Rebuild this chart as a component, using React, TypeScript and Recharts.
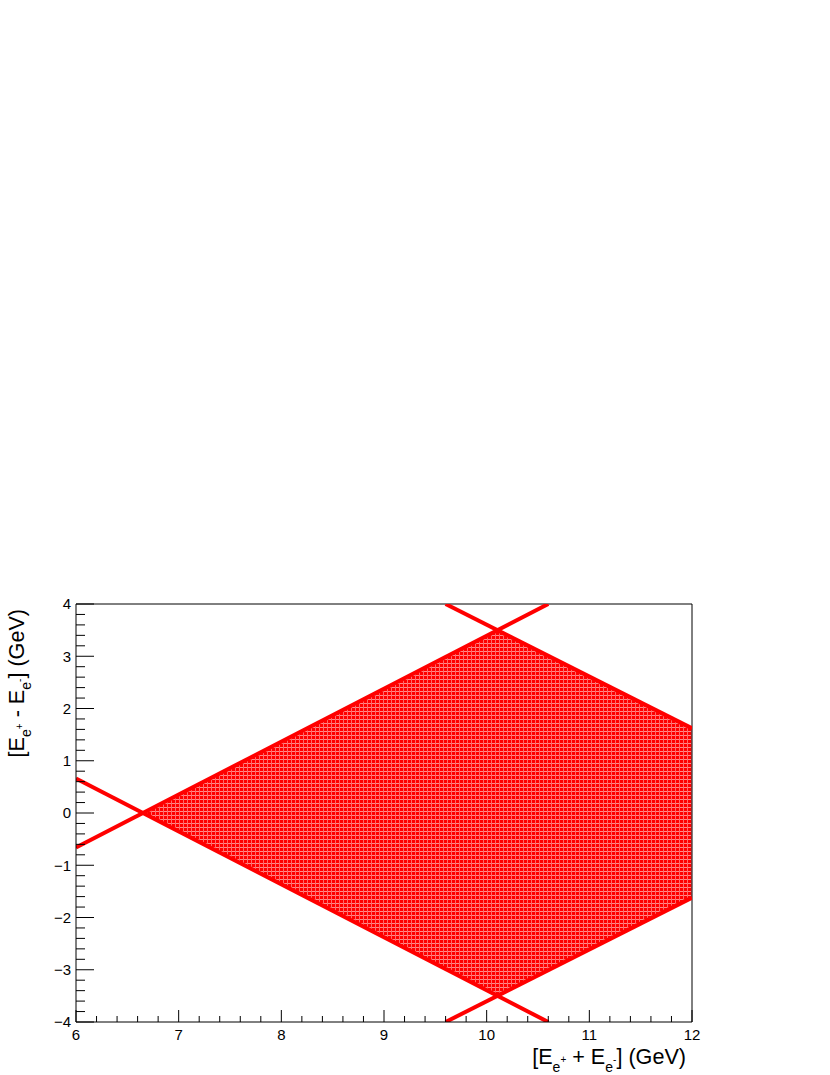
import React from 'react';
import { ComposedChart, Line, Area, XAxis, YAxis, ReferenceLine } from 'recharts';

// x positions (E_e+ + E_e-, GeV) where the boundary lines / band change
const xValues = [6, 6.65, 9.6, 10.1, 10.6, 12];
// boundary lines (E_e+ - E_e-, GeV); null where a line has no vertex
const riseLow: (number | null)[] = [-0.66, null, null, null, 4, null];
const fallLow: (number | null)[] = [0.66, null, null, null, -4, null];
const fallHigh: (number | null)[] = [null, null, 4, null, null, 1.62];
const riseHigh: (number | null)[] = [null, null, -4, null, null, -1.62];
// allowed region (filled band)
const bandLow: (number | null)[] = [null, 0, null, -3.5, null, -1.62];
const bandHigh: (number | null)[] = [null, 0, null, 3.5, null, 1.62];

const xMajorTicks = [6, 7, 8, 9, 10, 11, 12];
const yMajorTicks = [-4, -3, -2, -1, 0, 1, 2, 3, 4];

const minorOf = (majors: number[]) => {
  const out: number[] = [];
  for (let i = 0; i < majors.length - 1; i++) {
    for (let k = 0; k < 5; k++) out.push(+(majors[i] + (k * (majors[i + 1] - majors[i])) / 5).toFixed(3));
  }
  out.push(majors[majors.length - 1]);
  return out;
};
const xTicks = minorOf(xMajorTicks);
const yTicks = minorOf(yMajorTicks);

const data = xValues.map((x, i) => ({
  x,
  riseLow: riseLow[i],
  fallLow: fallLow[i],
  fallHigh: fallHigh[i],
  riseHigh: riseHigh[i],
  band: bandLow[i] === null ? null : [bandLow[i], bandHigh[i]],
}));

const FONT = '"Liberation Sans", Arial, Helvetica, sans-serif';
const TITLE = 21.6;
const isMajor = (v: number) => Math.abs(v - Math.round(v)) < 1e-6;
const fmt = (v: number) => (v < 0 ? '\u2212' + Math.abs(v) : String(v));

const YTick = (props: any) => {
  const { x, y, payload } = props;
  const v = payload.value;
  const major = isMajor(v);
  return (
    <g>
      <line x1={x} x2={x + (major ? 18 : 9)} y1={y} y2={y} stroke="#000" strokeWidth={1} />
      {major && (
        <text x={x - 5} y={y} dy="0.36em" textAnchor="end" fontSize={15} fontFamily={FONT} fill="#000">
          {fmt(Math.round(v))}
        </text>
      )}
    </g>
  );
};

const XTick = (props: any) => {
  const { x, y, payload } = props;
  const v = payload.value;
  const major = isMajor(v);
  return (
    <g>
      <line x1={x} x2={x} y1={y} y2={y - (major ? 12 : 6)} stroke="#000" strokeWidth={1} />
      {major && (
        <text x={x} y={y + 18} textAnchor="middle" fontSize={15} fontFamily={FONT} fill="#000">
          {fmt(Math.round(v))}
        </text>
      )}
    </g>
  );
};

const TitleBody = ({ op }: { op: string }) => (
  <>
    [E
    <tspan dy={7.5} fontSize={14}>e</tspan>
    <tspan dy={-8.5} fontSize={10}>+</tspan>
    <tspan dy={1} fontSize={TITLE}>{` ${op} E`}</tspan>
    <tspan dy={7.5} fontSize={14}>e</tspan>
    <tspan dy={-8.5} fontSize={10}>-</tspan>
    <tspan dy={1} fontSize={TITLE}>] (GeV)</tspan>
  </>
);

const XTitle = (props: any) => {
  const vb = props.viewBox || {};
  const x = vb.x + vb.width - 6;
  const y = vb.y + 42;
  return (
    <text x={x} y={y} textAnchor="end" fontSize={TITLE} fontFamily={FONT} fill="#000">
      <TitleBody op="+" />
    </text>
  );
};

const YTitle = (props: any) => {
  const vb = props.viewBox || {};
  const x = vb.x + 7.5;
  const y = vb.y + 5;
  return (
    <text x={x} y={y} transform={`rotate(-90, ${x}, ${y})`} textAnchor="end" fontSize={TITLE} fontFamily={FONT} fill="#000">
      <TitleBody op="-" />
    </text>
  );
};

export default function App() {
  return (
    <div style={{ position: 'absolute', left: 0, top: 0, background: '#fff' }}>
      <ComposedChart
        width={830}
        height={1075}
        data={data}
        margin={{ top: 604, right: 138, left: 16, bottom: 13 }}
      >
        <defs>
          <pattern id="rootFill" width={4} height={4} patternUnits="userSpaceOnUse">
            <rect x={0} y={0} width={4} height={4} fill="#ff0000" />
            <rect x={0} y={3} width={4} height={1} fill="#ff8a8a" />
            <rect x={3} y={0} width={1} height={4} fill="#ff6a6a" />
          </pattern>
        </defs>
        <XAxis
          dataKey="x"
          type="number"
          domain={[6, 12]}
          ticks={xTicks}
          interval={0}
          height={40}
          tickSize={0}
          tickMargin={0}
          tickLine={false}
          tick={<XTick />}
          axisLine={{ stroke: '#000', strokeWidth: 1 }}
          allowDataOverflow
          label={{ content: <XTitle /> }}
        />
        <YAxis
          type="number"
          domain={[-4, 4]}
          ticks={yTicks}
          interval={0}
          width={60}
          tickSize={0}
          tickMargin={0}
          tickLine={false}
          tick={<YTick />}
          axisLine={{ stroke: '#000', strokeWidth: 1 }}
          allowDataOverflow
          label={{ content: <YTitle /> }}
        />
        <ReferenceLine y={4} stroke="#000" strokeWidth={1} ifOverflow="visible" />
        <ReferenceLine x={12} stroke="#000" strokeWidth={1} ifOverflow="visible" />
        <Area
          dataKey="band"
          type="linear"
          stroke="none"
          fill="url(#rootFill)"
          fillOpacity={1}
          connectNulls
          isAnimationActive={false}
          dot={false}
          activeDot={false}
        />
        <Line dataKey="riseLow" type="linear" stroke="#ff0000" strokeWidth={4} dot={false} activeDot={false} connectNulls isAnimationActive={false} />
        <Line dataKey="fallLow" type="linear" stroke="#ff0000" strokeWidth={4} dot={false} activeDot={false} connectNulls isAnimationActive={false} />
        <Line dataKey="fallHigh" type="linear" stroke="#ff0000" strokeWidth={4} dot={false} activeDot={false} connectNulls isAnimationActive={false} />
        <Line dataKey="riseHigh" type="linear" stroke="#ff0000" strokeWidth={4} dot={false} activeDot={false} connectNulls isAnimationActive={false} />
      </ComposedChart>
    </div>
  );
}
